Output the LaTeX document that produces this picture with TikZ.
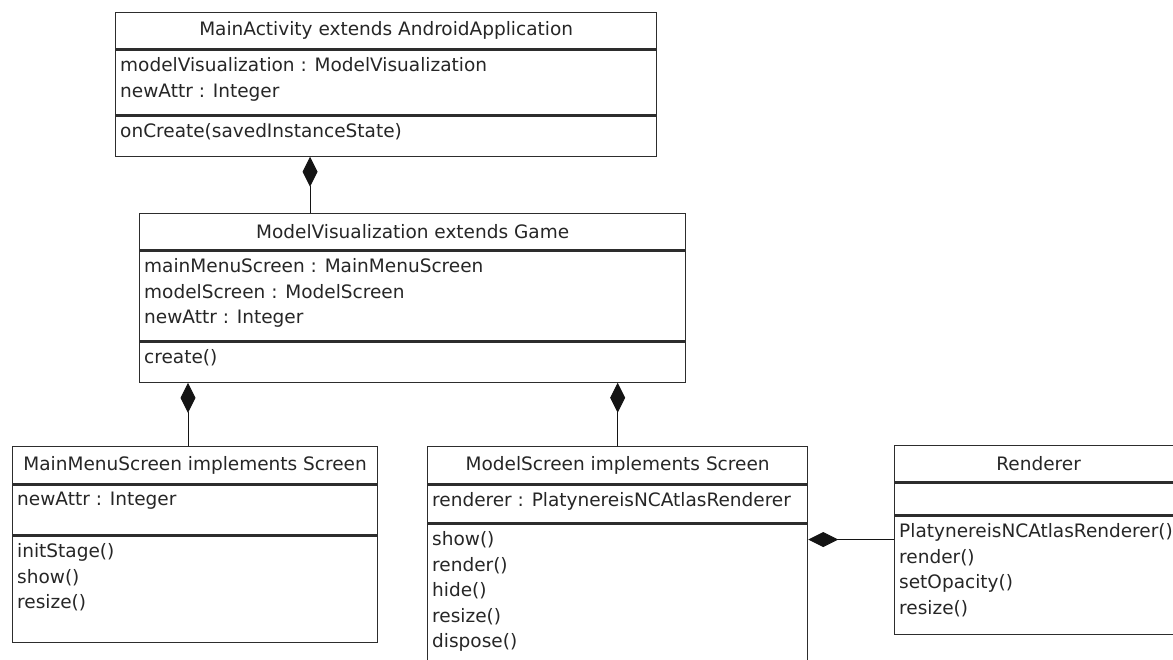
\documentclass[tikz,border=0pt]{standalone}
\usepackage{fontspec}
\setmainfont{DejaVu Sans}
\usepackage{tikz}
\usetikzlibrary{arrows.meta,positioning}
\definecolor{umlline}{RGB}{45,45,45}
\definecolor{umltext}{RGB}{38,38,38}
\definecolor{linkline}{RGB}{20,20,20}
\newcommand{\umlfont}{\fontsize{18.5}{25.5}\selectfont}
\tikzset{
  classname/.style={draw=umlline, fill=white, line width=1.25pt, anchor=north west,
    inner sep=0pt, font=\umlfont, text=umltext},
  classpart/.style={draw=umlline, fill=white, line width=1.25pt, anchor=north west,
    inner sep=0pt},
  members/.style={anchor=north west, align=left, inner xsep=5pt, inner ysep=8pt,
    font=\umlfont, text=umltext},
  compose/.style={{Diamond[length=30pt,width=15pt]}-, line width=1pt, draw=linkline,
    fill=linkline}
}

\begin{document}
\begin{tikzpicture}[x=1pt,y=-1pt]
  \path[use as bounding box] (0,0) rectangle (1173,659);
  \clip (0,0) rectangle (1173,659);

  % MainActivity
  \node[classname, minimum width=541pt, minimum height=36pt] (act) at (115,12)
    {MainActivity extends AndroidApplication};
  \node[classpart, minimum width=541pt, minimum height=65pt] (act-attrs) at (act.south west) {};
  \node[members] (act-attrs-txt) at (act-attrs.north west)
    {modelVisualization : ModelVisualization\\newAttr : Integer};
  \node[classpart, minimum width=541pt, minimum height=40pt] (act-ops) at (act-attrs.south west) {};
  \node[members] (act-ops-txt) at (act-ops.north west) {onCreate(savedInstanceState)};

  % ModelVisualization
  \node[classname, minimum width=546pt, minimum height=36pt] (vis) at (139,213)
    {ModelVisualization extends Game};
  \node[classpart, minimum width=546pt, minimum height=90pt] (vis-attrs) at (vis.south west) {};
  \node[members] (vis-attrs-txt) at (vis-attrs.north west)
    {mainMenuScreen : MainMenuScreen\\modelScreen : ModelScreen\\newAttr : Integer};
  \node[classpart, minimum width=546pt, minimum height=40pt] (vis-ops) at (vis-attrs.south west) {};
  \node[members] (vis-ops-txt) at (vis-ops.north west) {create()};

  % MainMenuScreen
  \node[classname, minimum width=365pt, minimum height=37pt] (menu) at (12,446)
    {MainMenuScreen implements Screen};
  \node[classpart, minimum width=365pt, minimum height=50pt] (menu-attrs) at (menu.south west) {};
  \node[members] (menu-attrs-txt) at (menu-attrs.north west) {newAttr : Integer};
  \node[classpart, minimum width=365pt, minimum height=106pt] (menu-ops) at (menu-attrs.south west) {};
  \node[members] (menu-ops-txt) at (menu-ops.north west) {initStage()\\show()\\resize()};

  % ModelScreen
  \node[classname, minimum width=380pt, minimum height=37pt] (model) at (427,446)
    {ModelScreen implements Screen};
  \node[classpart, minimum width=380pt, minimum height=38pt] (model-attrs) at (model.south west) {};
  \node[members] (model-attrs-txt) at (model-attrs.north west)
    {renderer : PlatynereisNCAtlasRenderer};
  \node[classpart, minimum width=380pt, minimum height=170pt] (model-ops) at (model-attrs.south west) {};
  \node[members] (model-ops-txt) at (model-ops.north west)
    {show()\\render()\\hide()\\resize()\\dispose()};

  % Renderer
  \node[classname, minimum width=288pt, minimum height=36pt] (rnd) at (894,445) {Renderer};
  \node[classpart, minimum width=288pt, minimum height=32pt] (rnd-attrs) at (rnd.south west) {};
  \node[classpart, minimum width=288pt, minimum height=118pt] (rnd-ops) at (rnd-attrs.south west) {};
  \node[members] (rnd-ops-txt) at (rnd-ops.north west)
    {PlatynereisNCAtlasRenderer()\\render()\\setOpacity()\\resize()};

  % composition links
  \coordinate (act-hub) at ([xshift=195pt]act-ops.south west);
  \coordinate (vis-left) at ([xshift=49pt]vis-ops.south west);
  \coordinate (rnd-port) at ([yshift=-24pt]rnd-ops.north west);
  \draw[compose] (act-hub) -- (act-hub |- vis.north);
  \draw[compose] (vis-left) -- (vis-left |- menu.north);
  \draw[compose] (vis-ops.south -| model.north) -- (model.north);
  \draw[compose] (model-ops.east |- rnd-port) -- (rnd-port);
\end{tikzpicture}
\end{document}
